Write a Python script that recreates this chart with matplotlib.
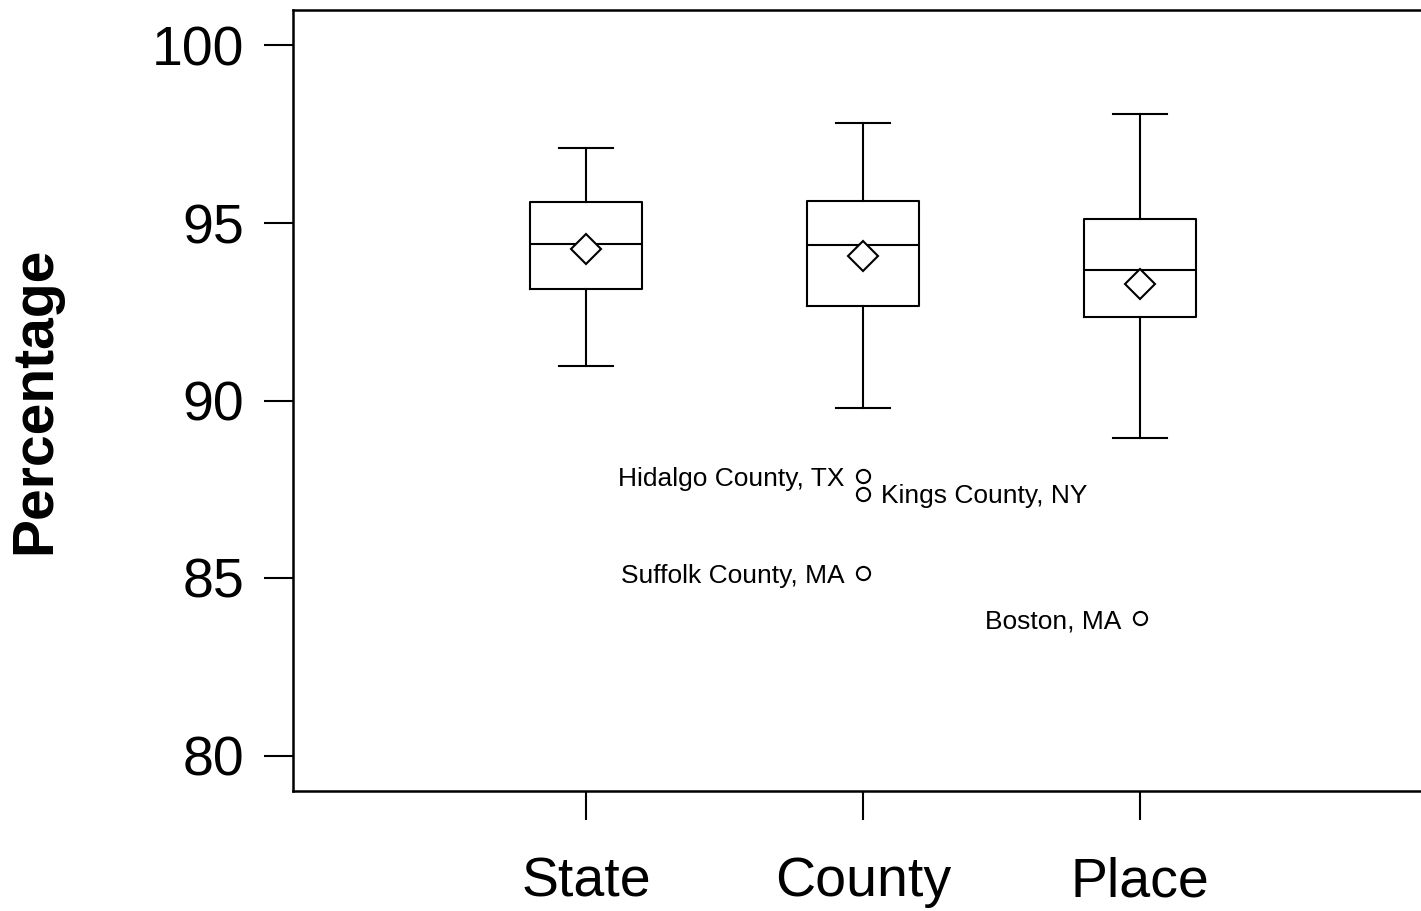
# Box plot of percentage by geography level, with labelled outliers
import matplotlib
matplotlib.use("Agg")
import matplotlib.pyplot as plt

plt.rcParams['font.family'] = ['Liberation Sans', 'DejaVu Sans']

categories = ["State", "County", "Place"]
whisker_low = [90.96, 89.80, 88.93]
q1 = [93.13, 92.65, 92.34]
medians = [94.42, 94.37, 93.69]
q3 = [95.58, 95.63, 95.10]
whisker_high = [97.10, 97.83, 98.08]
means = [94.28, 94.06, 93.27]

# outliers: (group index, value, label, side of label)
outlier_group = [1, 1, 1, 2]
outlier_value = [87.86, 87.38, 85.13, 83.86]
outlier_label = ["Hidalgo County, TX", "Kings County, NY", "Suffolk County, MA", "Boston, MA"]
outlier_side = ["left", "right", "left", "left"]

fig = plt.figure(figsize=(14.21, 9.11), dpi=100)
W, H = 1421, 911
ax = fig.add_axes([293 / W, (H - 791) / H, 1140 / W, 781 / H])

stats = []
for i, name in enumerate(categories):
    fl = [v for g, v in zip(outlier_group, outlier_value) if g == i]
    stats.append(dict(label=name, whislo=whisker_low[i], q1=q1[i], med=medians[i],
                      q3=q3[i], whishi=whisker_high[i], mean=means[i], fliers=fl))

positions = list(range(1, len(categories) + 1))
lw = 1.5
ax.bxp(stats, positions=positions, widths=0.405, capwidths=0.195,
       showmeans=True, showfliers=True,
       boxprops=dict(color='black', linewidth=lw),
       medianprops=dict(color='black', linewidth=lw),
       whiskerprops=dict(color='black', linewidth=lw),
       capprops=dict(color='black', linewidth=lw),
       meanprops=dict(marker='D', markersize=15.5, markerfacecolor='white',
                      markeredgecolor='black', markeredgewidth=1.5),
       flierprops=dict(marker='o', markersize=9.5, markerfacecolor='none',
                       markeredgecolor='black', markeredgewidth=1.5))

for g, v, lab, side in zip(outlier_group, outlier_value, outlier_label, outlier_side):
    dx = -13 if side == "left" else 13
    ax.annotate(lab, xy=(positions[g], v), xytext=(dx, -2), textcoords='offset points',
                ha='right' if side == "left" else 'left', va='center', fontsize=19)

ax.set_xlim(-0.061, 4.061)
ax.set_ylim(79, 101)
ax.set_yticks([80, 85, 90, 95, 100])
ax.set_xticks(positions)
ax.set_xticklabels(categories)
ax.tick_params(axis='both', labelsize=40, length=21, width=1.5, direction='out')
ax.tick_params(axis='y', pad=14)
ax.tick_params(axis='x', pad=26)
for s in ax.spines.values():
    s.set_linewidth(1.8)

ax.set_ylabel("Percentage", fontsize=41, fontweight='bold')
ax.yaxis.set_label_coords(-0.2026, 0.5)

fig.savefig("out.png", dpi=100)
